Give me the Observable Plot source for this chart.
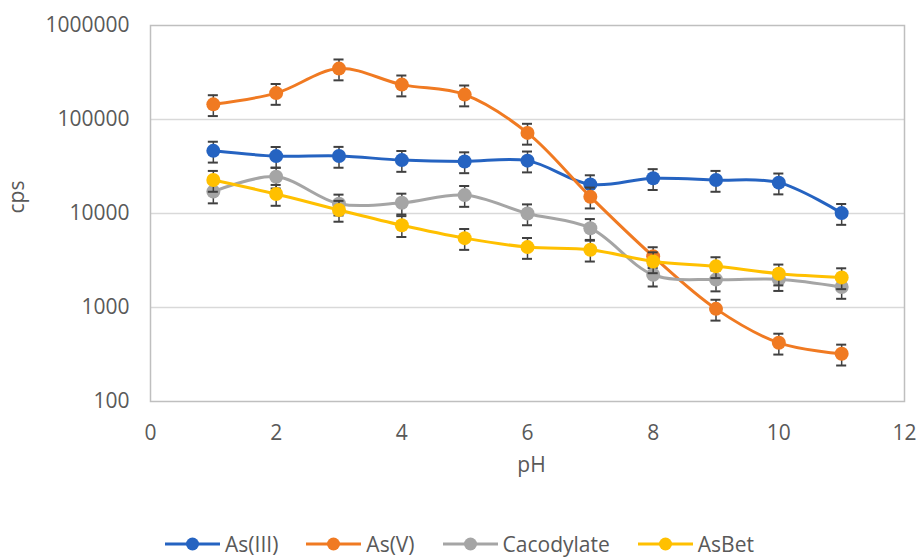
<!DOCTYPE html>
<html>
<head>
<meta charset="utf-8">
<script src="https://cdn.jsdelivr.net/npm/d3@7"></script>
<script src="https://cdn.jsdelivr.net/npm/@observablehq/plot@0.6"></script>
<style>
  html, body { margin: 0; padding: 0; background: #fff; }
  body { width: 919px; height: 557px; overflow: hidden; font-family: "Open Sans", "Noto Sans", sans-serif; }
  #chart svg { display: block; }
  #legend { display: flex; justify-content: center; align-items: center; gap: 28px; height: 22px; line-height: 22px; margin-top: 33px; font-size: 21px; color: #595959; }
  .item { display: flex; align-items: center; gap: 5px; height: 22px; }
  .item svg { display: block; }
</style>
</head>
<body>
<div id="chart"></div>
<div id="legend"></div>
<script>
// pH values
const pH = [1, 2, 3, 4, 5, 6, 7, 8, 9, 10, 11];
// Series values (cps)
const asIII = [46400, 40800, 40900, 37000, 35800, 36500, 20400, 23700, 22700, 21300, 10100];
const asV = [145000, 191000, 348000, 235000, 184000, 72000, 15100, 3500, 967, 421, 322];
const cacodylate = [17100, 24600, 12700, 13000, 15700, 10000, 6980, 2230, 1980, 2000, 1650];
const asBet = [22700, 16100, 10900, 7500, 5470, 4390, 4110, 3090, 2740, 2290, 2090];
// Error bars: percentage of value
const errorFraction = 0.25;
const seriesNames = ["As(III)", "As(V)", "Cacodylate", "AsBet"];
const seriesColors = ["#2563C1", "#F07A22", "#A5A5A5", "#FFC000"];
const xTicks = [0, 2, 4, 6, 8, 10, 12];
const yTicks = [100, 1000, 10000, 100000, 1000000];

const seriesValues = [asIII, asV, cacodylate, asBet];
const data = [];
seriesValues.forEach((vals, si) => {
  vals.forEach((v, i) => data.push({series: seriesNames[si], x: pH[i], y: v,
    lo: v * (1 - errorFraction), hi: v * (1 + errorFraction)}));
});

const capHalf = 0.08;
const marks = [
  Plot.ruleY(yTicks.slice(1, -1), {stroke: "#D9D9D9", strokeWidth: 1.5}),
  Plot.frame({stroke: "#BFBFBF", strokeWidth: 1.5}),
  Plot.axisX({ticks: xTicks, tickSize: 0, tickPadding: 24, fontSize: 21, label: null, tickFormat: d => String(d)}),
  Plot.axisY({ticks: yTicks, tickSize: 0, tickPadding: 21, fontSize: 21, label: null, tickFormat: d => String(d)}),
  Plot.text(["cps"], {frameAnchor: "left", dx: -133, rotate: -90, fontSize: 21, fill: "#595959"}),
  Plot.text(["pH"], {frameAnchor: "bottom", dx: 4, dy: 70, fontSize: 21, fill: "#595959"}),
];
seriesNames.forEach((name, si) => {
  const d = data.filter(r => r.series === name);
  const c = seriesColors[si];
  marks.push(
    Plot.line(d, {x: "x", y: "y", stroke: c, strokeWidth: 3, curve: "catmull-rom"}),
    Plot.ruleX(d, {x: "x", y1: "lo", y2: "hi", stroke: "#404040", strokeWidth: 1.5}),
    Plot.ruleY(d, {y: "lo", x1: r => r.x - capHalf, x2: r => r.x + capHalf, stroke: "#404040", strokeWidth: 2}),
    Plot.ruleY(d, {y: "hi", x1: r => r.x - capHalf, x2: r => r.x + capHalf, stroke: "#404040", strokeWidth: 2}),
    Plot.dot(d, {x: "x", y: "y", r: 7, fill: c, stroke: "none"})
  );
});

const chart = Plot.plot({
  width: 919,
  height: 500,
  marginLeft: 150,
  marginRight: 15,
  marginTop: 25,
  marginBottom: 99,
  style: {fontFamily: "'Open Sans', 'Noto Sans', sans-serif", color: "#595959", background: "#fff"},
  x: {domain: [0, 12]},
  y: {type: "log", domain: [100, 1000000]},
  marks
});
document.getElementById("chart").appendChild(chart);

const legend = document.getElementById("legend");
seriesNames.forEach((name, i) => {
  const item = document.createElement("div");
  item.className = "item";
  item.innerHTML = `<svg width="55" height="16"><line x1="0" y1="8" x2="55" y2="8" stroke="${seriesColors[i]}" stroke-width="3"/><circle cx="27.5" cy="8" r="6.5" fill="${seriesColors[i]}"/></svg><span>${name}</span>`;
  legend.appendChild(item);
});
</script>
</body>
</html>
